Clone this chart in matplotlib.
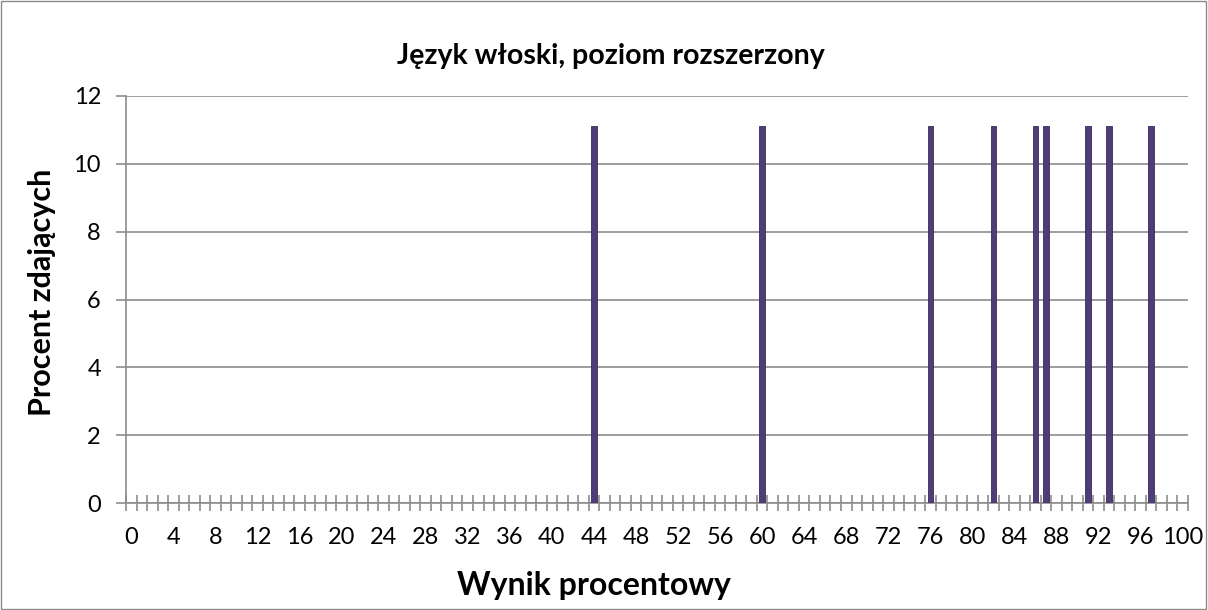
import matplotlib
matplotlib.use('Agg')
import matplotlib.pyplot as plt
import numpy as np

# Data
scores = list(range(0, 101))
bar_scores = [44, 60, 76, 82, 86, 87, 91, 93, 97]
bar_values = [11.11, 11.11, 11.11, 11.11, 11.11, 11.11, 11.11, 11.11, 11.11]
tick_labels = [str(s) for s in range(0, 101, 4)]

title = 'Język włoski, poziom rozszerzony'
xlabel = 'Wynik procentowy'
ylabel = 'Procent zdających'

plt.rcParams['font.family'] = ['Lato', 'DejaVu Sans']

values = np.zeros(len(scores))
for s, v in zip(bar_scores, bar_values):
    values[scores.index(s)] = v

fig = plt.figure(figsize=(12.08, 6.10), dpi=100)
ax = fig.add_axes([126 / 1208, 1 - 503 / 610, (1188 - 126) / 1208, (503 - 96) / 610])

x = np.arange(len(scores)) + 0.5
ax.bar(x, values, width=0.52, color='#4f3d78', edgecolor='#3a2b5c', linewidth=0.6, zorder=3)

ax.set_xlim(0, len(scores))
ax.set_ylim(0, 12)
ax.set_yticks(range(0, 13, 2))
ax.yaxis.grid(True, color='#8c8c8c', linewidth=1.2)
ax.set_axisbelow(True)

ax.set_xticks(np.arange(0, 101, 4) + 0.5)
ax.set_xticklabels(tick_labels)
ax.set_xticks(np.arange(0, len(scores) + 1), minor=True)
ax.tick_params(axis='x', which='major', length=0, pad=17, labelsize=17)
ax.tick_params(axis='x', which='minor', length=11, width=1.2, direction='inout', color='#8c8c8c')
ax.tick_params(axis='y', length=7, width=1.2, color='#8c8c8c', labelsize=17, pad=11)

for side in ['top', 'right']:
    ax.spines[side].set_visible(False)
for side in ['left', 'bottom']:
    ax.spines[side].set_color('#8c8c8c')
    ax.spines[side].set_linewidth(1.2)

fig.text(0.506, 1 - 56 / 610, title, fontsize=20.5, fontweight='bold', ha='center', va='center')
fig.text(0.492, 1 - 585 / 610, xlabel, fontsize=23, fontweight='bold', ha='center', va='center')
fig.text(42 / 1208, 1 - 292 / 610, ylabel, fontsize=22, fontweight='bold', ha='center', va='center',
         rotation=90)

fig.patches.append(plt.Rectangle((0.001, 0.002), 0.997, 0.996, transform=fig.transFigure,
                                 fill=False, edgecolor='#8c8c8c', linewidth=1))

fig.savefig('out.png', dpi=100)
